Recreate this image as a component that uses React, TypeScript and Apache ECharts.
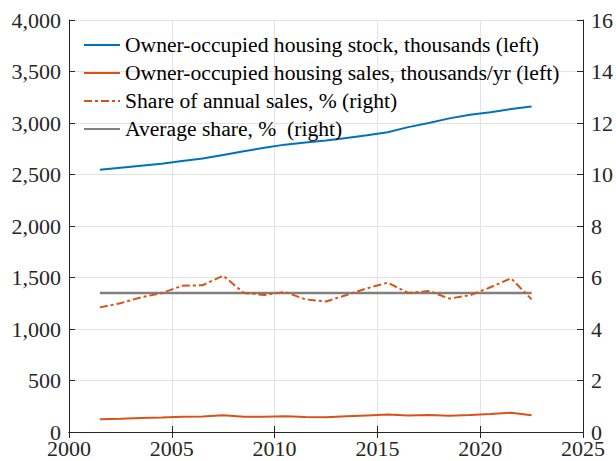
import React, { useEffect, useRef } from "react";
import * as echarts from "echarts";

// mid-year positions of the annual observations
const years = [
  2001.5, 2002.5, 2003.5, 2004.5, 2005.5, 2006.5, 2007.5, 2008.5, 2009.5, 2010.5, 2011.5,
  2012.5, 2013.5, 2014.5, 2015.5, 2016.5, 2017.5, 2018.5, 2019.5, 2020.5, 2021.5, 2022.5,
];
const stock = [
  2545, 2565, 2585, 2605, 2630, 2655, 2690, 2725, 2760, 2790, 2810,
  2830, 2855, 2880, 2910, 2960, 3000, 3045, 3080, 3105, 3135, 3160,
];
const sales = [
  123, 128, 135, 140, 149, 151, 163, 147, 147, 152, 145,
  143, 152, 161, 169, 160, 164, 158, 164, 174, 187, 163,
];
const share = [
  4.84, 5.0, 5.23, 5.39, 5.68, 5.7, 6.07, 5.4, 5.32, 5.44, 5.15,
  5.07, 5.32, 5.58, 5.8, 5.4, 5.48, 5.18, 5.31, 5.62, 5.97, 5.15,
];
const averageShare = 5.4;
const legendNames = [
  "Owner-occupied housing stock, thousands (left)",
  "Owner-occupied housing sales, thousands/yr (left)",
  "Share of annual sales, % (right)",
  "Average share, %  (right)",
];

const FONT = "'Liberation Serif', 'Times New Roman', serif";
const AXIS = "#262626";
const GRID = "#e3e3e3";
const SOLID_ICON = "path://M0,0h36v2h-36z";
const DASHDOT_ICON = "path://M0,0h8v2h-8z M11,0h3v2h-3z M17,0h8v2h-8z M28,0h3v2h-3z M34,0h2v2h-2z";

export default function App() {
  const ref = useRef<HTMLDivElement>(null);
  useEffect(() => {
    if (!ref.current) return;
    const chart = echarts.init(ref.current, null, { renderer: "svg" });
    const zip = (ys: number[]) => years.map((x, i) => [x, ys[i]]);
    const tickCommon = {
      axisLine: { show: true, lineStyle: { color: AXIS, width: 1 } },
      axisTick: { show: true, inside: true, length: 6, lineStyle: { color: AXIS } },
    };
    const labelStyle = { fontFamily: FONT, fontSize: 22, color: AXIS };
    chart.setOption({
      animation: false,
      backgroundColor: "#fff",
      textStyle: { fontFamily: FONT },
      grid: { left: 69, right: 27, top: 20, bottom: 29, containLabel: false },
      legend: {
        orient: "vertical",
        left: 84,
        top: 34,
        padding: 0,
        itemWidth: 36,
        itemHeight: 2,
        itemGap: 6,
        textStyle: { fontFamily: FONT, fontSize: 21.6, color: "#000", lineHeight: 21 },
        data: [
          { name: legendNames[0], icon: SOLID_ICON },
          { name: legendNames[1], icon: SOLID_ICON },
          { name: legendNames[2], icon: DASHDOT_ICON },
          { name: legendNames[3], icon: SOLID_ICON },
        ],
      },
      xAxis: [
        {
          type: "value",
          min: 2000,
          max: 2025,
          interval: 5,
          ...tickCommon,
          axisLabel: { ...labelStyle, margin: 5, formatter: (v: number) => String(v) },
          splitLine: { show: true, lineStyle: { color: GRID } },
        },
        {
          type: "value",
          position: "top",
          min: 2000,
          max: 2025,
          interval: 5,
          ...tickCommon,
          axisLabel: { show: false },
          splitLine: { show: false },
        },
      ],
      yAxis: [
        {
          type: "value",
          min: 0,
          max: 4000,
          interval: 500,
          ...tickCommon,
          axisLabel: {
            ...labelStyle,
            margin: 8,
            formatter: (v: number) => v.toLocaleString("en-US"),
          },
          splitLine: { show: true, lineStyle: { color: GRID } },
        },
        {
          type: "value",
          position: "right",
          min: 0,
          max: 16,
          interval: 2,
          ...tickCommon,
          axisLabel: { ...labelStyle, margin: 8, formatter: (v: number) => String(v) },
          splitLine: { show: false },
        },
      ],
      series: [
        {
          name: legendNames[0],
          type: "line",
          yAxisIndex: 0,
          data: zip(stock),
          symbol: "none",
          lineStyle: { color: "#0072BD", width: 2 },
          itemStyle: { color: "#0072BD" },
        },
        {
          name: legendNames[1],
          type: "line",
          yAxisIndex: 0,
          data: zip(sales),
          symbol: "none",
          lineStyle: { color: "#D95319", width: 2 },
          itemStyle: { color: "#D95319" },
        },
        {
          name: legendNames[2],
          type: "line",
          yAxisIndex: 1,
          data: zip(share),
          symbol: "none",
          lineStyle: { color: "#D95319", width: 2, type: [8, 3, 3, 3] },
          itemStyle: { color: "#D95319" },
        },
        {
          name: legendNames[3],
          type: "line",
          yAxisIndex: 1,
          data: [
            [years[0], averageShare],
            [years[years.length - 1], averageShare],
          ],
          symbol: "none",
          lineStyle: { color: "#808080", width: 2.5 },
          itemStyle: { color: "#808080" },
          z: 1,
        },
      ],
    });
    return () => chart.dispose();
  }, []);
  return (
    <div
      ref={ref}
      style={{ position: "fixed", left: 0, top: 0, width: 616, height: 461, background: "#fff" }}
    />
  );
}
